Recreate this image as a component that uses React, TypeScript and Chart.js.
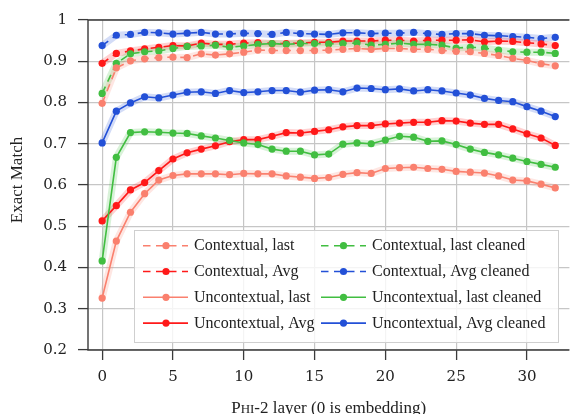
import React, { useEffect, useRef } from "react";
import { Chart, registerables } from "chart.js";

Chart.register(...registerables);

// ---------- data ----------
const layers = [0, 1, 2, 3, 4, 5, 6, 7, 8, 9, 10, 11, 12, 13, 14, 15, 16, 17, 18, 19, 20, 21, 22, 23, 24, 25, 26, 27, 28, 29, 30, 31, 32];

const contextualLast = [0.798, 0.884, 0.901, 0.906, 0.909, 0.910, 0.909, 0.918, 0.915, 0.918, 0.922, 0.927, 0.926, 0.926, 0.926, 0.926, 0.927, 0.929, 0.931, 0.929, 0.931, 0.931, 0.929, 0.929, 0.926, 0.924, 0.923, 0.919, 0.914, 0.907, 0.902, 0.894, 0.889];
const contextualAvg = [0.895, 0.919, 0.925, 0.930, 0.934, 0.938, 0.937, 0.944, 0.941, 0.941, 0.944, 0.945, 0.943, 0.943, 0.944, 0.946, 0.946, 0.949, 0.949, 0.949, 0.951, 0.951, 0.949, 0.951, 0.951, 0.951, 0.952, 0.947, 0.949, 0.948, 0.945, 0.942, 0.938];
const contextualLastCleaned = [0.822, 0.895, 0.918, 0.923, 0.925, 0.931, 0.936, 0.937, 0.939, 0.934, 0.937, 0.941, 0.943, 0.941, 0.943, 0.943, 0.942, 0.943, 0.944, 0.939, 0.941, 0.944, 0.941, 0.941, 0.939, 0.932, 0.934, 0.932, 0.927, 0.923, 0.922, 0.922, 0.919];
const contextualAvgCleaned = [0.938, 0.963, 0.965, 0.970, 0.969, 0.966, 0.968, 0.970, 0.966, 0.966, 0.968, 0.967, 0.965, 0.970, 0.967, 0.966, 0.965, 0.969, 0.969, 0.967, 0.968, 0.968, 0.970, 0.967, 0.965, 0.967, 0.967, 0.963, 0.962, 0.960, 0.958, 0.955, 0.958];
const uncontextualLast = [0.326, 0.464, 0.534, 0.579, 0.612, 0.623, 0.627, 0.627, 0.627, 0.625, 0.628, 0.627, 0.627, 0.622, 0.619, 0.616, 0.618, 0.626, 0.630, 0.628, 0.640, 0.642, 0.643, 0.640, 0.638, 0.633, 0.631, 0.629, 0.622, 0.612, 0.610, 0.602, 0.593];
const uncontextualAvg = [0.513, 0.550, 0.588, 0.606, 0.635, 0.663, 0.678, 0.687, 0.695, 0.705, 0.710, 0.710, 0.718, 0.727, 0.726, 0.730, 0.734, 0.741, 0.744, 0.744, 0.748, 0.750, 0.752, 0.752, 0.756, 0.755, 0.750, 0.747, 0.747, 0.736, 0.724, 0.714, 0.696];
const uncontextualLastCleaned = [0.416, 0.667, 0.727, 0.729, 0.728, 0.726, 0.725, 0.719, 0.714, 0.708, 0.702, 0.698, 0.687, 0.682, 0.682, 0.673, 0.675, 0.699, 0.702, 0.700, 0.709, 0.718, 0.716, 0.706, 0.707, 0.698, 0.687, 0.679, 0.673, 0.665, 0.657, 0.650, 0.643];
const uncontextualAvgCleaned = [0.702, 0.779, 0.799, 0.814, 0.811, 0.818, 0.825, 0.826, 0.822, 0.829, 0.824, 0.826, 0.829, 0.829, 0.825, 0.830, 0.831, 0.826, 0.835, 0.834, 0.831, 0.833, 0.828, 0.831, 0.828, 0.823, 0.818, 0.810, 0.805, 0.802, 0.790, 0.779, 0.766];

const xTicks = [0, 5, 10, 15, 20, 25, 30];
const xTickLabels = ["0", "5", "10", "15", "20", "25", "30"];
const yTicks = [0.2, 0.3, 0.4, 0.5, 0.6, 0.7, 0.8, 0.9, 1.0];
const yTickLabels = ["0.2", "0.3", "0.4", "0.5", "0.6", "0.7", "0.8", "0.9", "1"];

// ---------- styles ----------
const SALMON = [250, 128, 110];
const RED = [255, 25, 25];
const GREEN = [65, 190, 65];
const BLUE = [35, 80, 215];

const rgb = (c: number[], a = 1) => `rgba(${c[0]},${c[1]},${c[2]},${a})`;

// legend order (row-major, 2 columns)
const seriesDefs = [
  { label: "Contextual, last", values: contextualLast, color: SALMON, dashed: true },
  { label: "Contextual, last cleaned", values: contextualLastCleaned, color: GREEN, dashed: true },
  { label: "Contextual, Avg", values: contextualAvg, color: RED, dashed: true },
  { label: "Contextual, Avg cleaned", values: contextualAvgCleaned, color: BLUE, dashed: true },
  { label: "Uncontextual, last", values: uncontextualLast, color: SALMON, dashed: false },
  { label: "Uncontextual, last cleaned", values: uncontextualLastCleaned, color: GREEN, dashed: false },
  { label: "Uncontextual, Avg", values: uncontextualAvg, color: RED, dashed: false },
  { label: "Uncontextual, Avg cleaned", values: uncontextualAvgCleaned, color: BLUE, dashed: false },
];

const DASH = [7.5, 5.5];
const TEXT_FONT = '"Liberation Serif", "Times New Roman", serif';
const TICK_FONT = '"DejaVu Serif", serif';

const bandPlugin = {
  id: "bands",
  beforeDatasetsDraw(chart: any) {
    const ctx = chart.ctx;
    const ca = chart.chartArea;
    ctx.save();
    ctx.beginPath();
    ctx.rect(ca.left, ca.top, ca.right - ca.left, ca.bottom - ca.top);
    ctx.clip();
    for (let i = chart.data.datasets.length - 1; i >= 0; i--) {
      const ds = chart.data.datasets[i];
      const meta = chart.getDatasetMeta(i);
      ctx.beginPath();
      meta.data.forEach((p: any, j: number) => {
        if (j === 0) ctx.moveTo(p.x, p.y);
        else ctx.lineTo(p.x, p.y);
      });
      ctx.strokeStyle = ds.bandColor;
      ctx.lineWidth = 7;
      ctx.lineJoin = "round";
      ctx.lineCap = "round";
      ctx.setLineDash([]);
      ctx.stroke();
    }
    ctx.restore();
  },
};

const framePlugin = {
  id: "frame",
  afterDatasetsDraw(chart: any) {
    const ctx = chart.ctx;
    const ca = chart.chartArea;
    ctx.save();
    ctx.strokeStyle = "#3a3a3a";
    ctx.lineWidth = 1.4;
    ctx.beginPath();
    ctx.moveTo(ca.left, ca.top);
    ctx.lineTo(ca.right, ca.top);
    ctx.moveTo(ca.left, ca.top);
    ctx.lineTo(ca.left, ca.bottom);
    ctx.lineTo(ca.right, ca.bottom);
    ctx.stroke();
    ctx.restore();
  },
};

const legendPlugin = {
  id: "customLegend",
  afterDraw(chart: any) {
    const ctx = chart.ctx;
    const ca = chart.chartArea;
    const bx = ca.left + 46;
    const by = ca.top + 210;
    const bw = 424;
    const bh = 112;
    ctx.save();
    ctx.fillStyle = "rgba(255,255,255,0.8)";
    ctx.fillRect(bx, by, bw, bh);
    ctx.strokeStyle = "#cfcfcf";
    ctx.lineWidth = 1;
    ctx.strokeRect(bx + 0.5, by + 0.5, bw, bh);
    const cols = [
      { x0: bx + 9, x1: bx + 54, mx: bx + 32, tx: bx + 60 },
      { x0: bx + 187, x1: bx + 232, mx: bx + 209.5, tx: bx + 238 },
    ];
    chart.data.datasets.forEach((ds: any, i: number) => {
      const col = cols[i % 2];
      const row = Math.floor(i / 2);
      const y = by + 15.7 + row * 25.8;
      ctx.beginPath();
      ctx.setLineDash(ds.borderDash || []);
      ctx.strokeStyle = ds.borderColor;
      ctx.lineWidth = 1.6;
      ctx.moveTo(col.x0, y);
      ctx.lineTo(col.x1, y);
      ctx.stroke();
      ctx.setLineDash([]);
      ctx.beginPath();
      ctx.fillStyle = ds.pointBackgroundColor;
      ctx.arc(col.mx, y, 3.6, 0, Math.PI * 2);
      ctx.fill();
      ctx.fillStyle = "#222";
      ctx.font = `16px ${TEXT_FONT}`;
      ctx.textAlign = "left";
      ctx.textBaseline = "middle";
      ctx.fillText(ds.label, col.tx, y + 0.5);
    });
    ctx.restore();
  },
};

const titlesPlugin = {
  id: "titles",
  afterDraw(chart: any) {
    const ctx = chart.ctx;
    const ca = chart.chartArea;
    ctx.save();
    ctx.fillStyle = "#222";
    // y title
    ctx.translate(21.5, (ca.top + ca.bottom) / 2 - 5);
    ctx.rotate(-Math.PI / 2);
    ctx.font = `17px ${TEXT_FONT}`;
    ctx.textAlign = "center";
    ctx.textBaseline = "alphabetic";
    ctx.fillText("Exact Match", 0, 0);
    ctx.restore();

    // x title with small caps "PHI"
    ctx.save();
    ctx.fillStyle = "#222";
    ctx.textBaseline = "alphabetic";
    ctx.textAlign = "left";
    const big = `17px ${TEXT_FONT}`;
    const small = `13px ${TEXT_FONT}`;
    const parts = [
      { t: "P", f: big },
      { t: "HI", f: small },
      { t: "-2 layer (0 is embedding)", f: big },
    ];
    let total = 0;
    parts.forEach((p) => {
      ctx.font = p.f;
      total += ctx.measureText(p.t).width;
    });
    let x = (ca.left + ca.right) / 2 - total / 2;
    const yb = ca.bottom + 63;
    parts.forEach((p) => {
      ctx.font = p.f;
      ctx.fillText(p.t, x, yb);
      x += ctx.measureText(p.t).width;
    });
    ctx.restore();
  },
};

export default function App() {
  const ref = useRef<HTMLCanvasElement>(null);
  useEffect(() => {
    document.body.style.margin = "0";
    const datasets = seriesDefs.map((s) => ({
      label: s.label,
      data: layers.map((x, i) => ({ x, y: s.values[i] })),
      borderColor: rgb(s.color),
      backgroundColor: rgb(s.color),
      pointBackgroundColor: rgb(s.color),
      pointBorderWidth: 0,
      pointRadius: 3.6,
      pointHoverRadius: 3.6,
      borderWidth: 1.6,
      borderDash: s.dashed ? DASH : [],
      bandColor: rgb(s.color, 0.2),
      tension: 0,
      fill: false,
    }));
    const chart = new Chart(ref.current as HTMLCanvasElement, {
      type: "line",
      data: { datasets: datasets as any },
      options: {
        responsive: false,
        animation: false,
        devicePixelRatio: 1,
        layout: { padding: { top: 16, right: 0, left: 0, bottom: 0 } },
        plugins: {
          legend: { display: false },
          tooltip: { enabled: false },
        },
        events: [],
        scales: {
          x: {
            type: "linear",
            min: -1,
            max: 33,
            afterBuildTicks: (scale: any) => {
              scale.ticks = xTicks.map((v) => ({ value: v }));
            },
            afterFit: (scale: any) => {
              scale.height = 64;
            },
            ticks: {
              autoSkip: false,
              maxRotation: 0,
              padding: 8,
              color: "#222",
              font: { family: TICK_FONT, size: 15 },
              callback: (_v: any, i: number) => xTickLabels[i],
            },
            grid: {
              color: "#c6c6c6",
              lineWidth: 1.2,
              tickLength: 10,
              tickColor: "#3a3a3a",
              tickWidth: 1.3,
            },
            border: { display: false },
          },
          y: {
            type: "linear",
            min: 0.2,
            max: 1,
            afterBuildTicks: (scale: any) => {
              scale.ticks = yTicks.map((v) => ({ value: v }));
            },
            afterFit: (scale: any) => {
              scale.width = 88;
            },
            ticks: {
              autoSkip: false,
              padding: 11,
              color: "#222",
              font: { family: TICK_FONT, size: 15 },
              callback: (_v: any, i: number) => yTickLabels[i],
            },
            grid: {
              color: "#c6c6c6",
              lineWidth: 1.2,
              tickLength: 10,
              tickColor: "#3a3a3a",
              tickWidth: 1.3,
            },
            border: { display: false },
          },
        },
      },
      plugins: [bandPlugin, framePlugin, legendPlugin, titlesPlugin],
    });
    return () => chart.destroy();
  }, []);
  return (
    <div style={{ position: "absolute", left: 0, top: 0, width: 573, height: 414, background: "#fff" }}>
      <canvas ref={ref} width={573} height={414} style={{ display: "block" }} />
    </div>
  );
}
